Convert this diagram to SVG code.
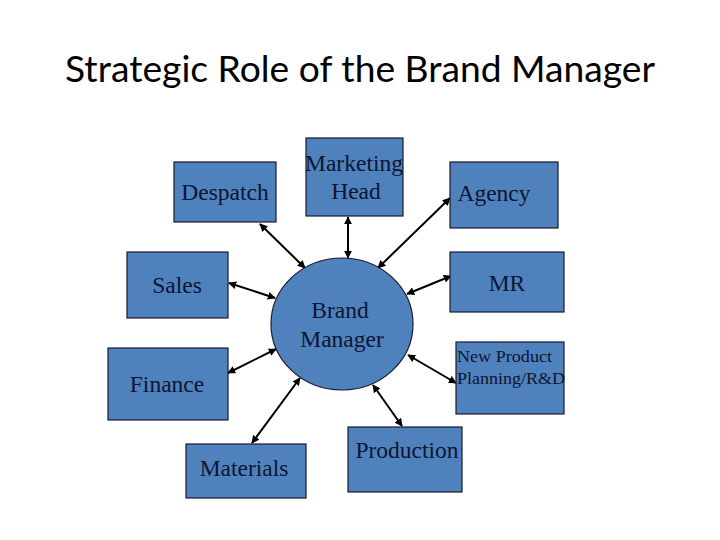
<svg xmlns="http://www.w3.org/2000/svg" width="720" height="540" viewBox="0 0 720 540">
<defs>
<style>
.box{fill:#4f81bd;stroke:#1a1a2e;stroke-width:1.2}
.lbl{font-family:"Liberation Serif","Times New Roman",serif;font-size:23.5px;fill:#0d1530;text-anchor:middle}
.sm{font-size:17.5px;text-anchor:start}
.con{stroke:#000;stroke-width:2;fill:none;marker-start:url(#ah);marker-end:url(#ah)}
</style>
<marker id="ah" viewBox="0 0 10 10" refX="9" refY="5" markerWidth="4" markerHeight="4" orient="auto-start-reverse" markerUnits="strokeWidth">
<path d="M0,0 L10,5 L0,10 z" fill="#000"/>
</marker>
</defs>
<rect width="720" height="540" fill="#fff"/>
<text x="360" y="82" font-family="Lato, 'Liberation Sans', Arial, sans-serif" font-size="36" fill="#000" text-anchor="middle" textLength="590" lengthAdjust="spacingAndGlyphs">Strategic Role of the Brand Manager</text>

<g id="connectors">
<line class="con" x1="260" y1="224" x2="305" y2="268"/>
<line class="con" x1="348" y1="217" x2="348" y2="258"/>
<line class="con" x1="450" y1="198" x2="378" y2="268"/>
<line class="con" x1="229" y1="283" x2="275" y2="298"/>
<line class="con" x1="451" y1="276" x2="407" y2="294"/>
<line class="con" x1="408" y1="355" x2="456" y2="383"/>
<line class="con" x1="228" y1="373" x2="276" y2="349"/>
<line class="con" x1="252" y1="443" x2="300" y2="378"/>
<line class="con" x1="373" y1="385" x2="402" y2="426"/>
</g>

<g id="brand-manager">
<ellipse class="box" cx="342" cy="324" rx="71" ry="66"/>
<text class="lbl" x="340" y="318">Brand</text>
<text class="lbl" x="342" y="347">Manager</text>
</g>
<g id="despatch">
<rect class="box" x="174" y="162" width="102" height="60"/>
<text class="lbl" x="225" y="200">Despatch</text>
</g>
<g id="marketing-head">
<rect class="box" x="306" y="138" width="97" height="78"/>
<text class="lbl" x="354" y="171">Marketing</text>
<text class="lbl" x="356" y="199">Head</text>
</g>
<g id="agency">
<rect class="box" x="450" y="162" width="108" height="66"/>
<text class="lbl" x="494" y="201">Agency</text>
</g>
<g id="sales">
<rect class="box" x="127" y="252" width="101" height="66"/>
<text class="lbl" x="177" y="293">Sales</text>
</g>
<g id="mr">
<rect class="box" x="450" y="252" width="114" height="60"/>
<text class="lbl" x="507" y="291">MR</text>
</g>
<g id="new-product">
<rect class="box" x="456" y="342" width="108" height="72"/>
<text class="lbl sm" x="457" y="362" textLength="95" lengthAdjust="spacingAndGlyphs">New Product</text>
<text class="lbl sm" x="457" y="384" textLength="108" lengthAdjust="spacingAndGlyphs">Planning/R&amp;D</text>
</g>
<g id="finance">
<rect class="box" x="108" y="348" width="120" height="72"/>
<text class="lbl" x="167" y="392">Finance</text>
</g>
<g id="materials">
<rect class="box" x="186" y="444" width="120" height="54"/>
<text class="lbl" x="244" y="476">Materials</text>
</g>
<g id="production">
<rect class="box" x="348" y="427" width="114" height="65"/>
<text class="lbl" x="407" y="458">Production</text>
</g>
</svg>
